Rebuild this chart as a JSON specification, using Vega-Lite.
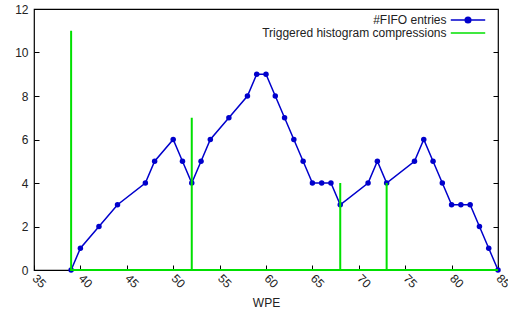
{
  "$schema": "https://vega.github.io/schema/vega-lite/v6.json",
  "width": 464,
  "height": 261,
  "autosize": {"type": "none"},
  "padding": {"left": 34, "top": 9, "right": 10, "bottom": 41},
  "config": {
    "view": {"stroke": "black", "strokeWidth": 1.2},
    "font": "Liberation Sans",
    "axis": {
      "grid": false,
      "domain": false,
      "tickColor": "black",
      "tickSize": -5,
      "tickWidth": 1,
      "labelColor": "#222222",
      "labelFontSize": 12,
      "labelFont": "Liberation Sans",
      "titleFont": "Liberation Sans",
      "titleFontWeight": "normal",
      "titleFontSize": 12,
      "titleColor": "#222222"
    }
  },
  "datasets": {
    "fifo": [
      {"wpe": 39, "entries": 0, "series": "#FIFO entries"},
      {"wpe": 40, "entries": 1, "series": "#FIFO entries"},
      {"wpe": 42, "entries": 2, "series": "#FIFO entries"},
      {"wpe": 44, "entries": 3, "series": "#FIFO entries"},
      {"wpe": 47, "entries": 4, "series": "#FIFO entries"},
      {"wpe": 48, "entries": 5, "series": "#FIFO entries"},
      {"wpe": 50, "entries": 6, "series": "#FIFO entries"},
      {"wpe": 51, "entries": 5, "series": "#FIFO entries"},
      {"wpe": 52, "entries": 4, "series": "#FIFO entries"},
      {"wpe": 53, "entries": 5, "series": "#FIFO entries"},
      {"wpe": 54, "entries": 6, "series": "#FIFO entries"},
      {"wpe": 56, "entries": 7, "series": "#FIFO entries"},
      {"wpe": 58, "entries": 8, "series": "#FIFO entries"},
      {"wpe": 59, "entries": 9, "series": "#FIFO entries"},
      {"wpe": 60, "entries": 9, "series": "#FIFO entries"},
      {"wpe": 61, "entries": 8, "series": "#FIFO entries"},
      {"wpe": 62, "entries": 7, "series": "#FIFO entries"},
      {"wpe": 63, "entries": 6, "series": "#FIFO entries"},
      {"wpe": 64, "entries": 5, "series": "#FIFO entries"},
      {"wpe": 65, "entries": 4, "series": "#FIFO entries"},
      {"wpe": 66, "entries": 4, "series": "#FIFO entries"},
      {"wpe": 67, "entries": 4, "series": "#FIFO entries"},
      {"wpe": 68, "entries": 3, "series": "#FIFO entries"},
      {"wpe": 71, "entries": 4, "series": "#FIFO entries"},
      {"wpe": 72, "entries": 5, "series": "#FIFO entries"},
      {"wpe": 73, "entries": 4, "series": "#FIFO entries"},
      {"wpe": 76, "entries": 5, "series": "#FIFO entries"},
      {"wpe": 77, "entries": 6, "series": "#FIFO entries"},
      {"wpe": 78, "entries": 5, "series": "#FIFO entries"},
      {"wpe": 79, "entries": 4, "series": "#FIFO entries"},
      {"wpe": 80, "entries": 3, "series": "#FIFO entries"},
      {"wpe": 81, "entries": 3, "series": "#FIFO entries"},
      {"wpe": 82, "entries": 3, "series": "#FIFO entries"},
      {"wpe": 83, "entries": 2, "series": "#FIFO entries"},
      {"wpe": 84, "entries": 1, "series": "#FIFO entries"},
      {"wpe": 85, "entries": 0, "series": "#FIFO entries"}
    ],
    "comp": [
      {"i": 1, "wpe": 39, "h": 0, "series": "Triggered histogram compressions"},
      {"i": 2, "wpe": 39, "h": 11, "series": "Triggered histogram compressions"},
      {"i": 3, "wpe": 39, "h": 0, "series": "Triggered histogram compressions"},
      {"i": 4, "wpe": 52, "h": 0, "series": "Triggered histogram compressions"},
      {"i": 5, "wpe": 52, "h": 7, "series": "Triggered histogram compressions"},
      {"i": 6, "wpe": 52, "h": 0, "series": "Triggered histogram compressions"},
      {"i": 7, "wpe": 68, "h": 0, "series": "Triggered histogram compressions"},
      {"i": 8, "wpe": 68, "h": 4, "series": "Triggered histogram compressions"},
      {"i": 9, "wpe": 68, "h": 0, "series": "Triggered histogram compressions"},
      {"i": 10, "wpe": 73, "h": 0, "series": "Triggered histogram compressions"},
      {"i": 11, "wpe": 73, "h": 4, "series": "Triggered histogram compressions"},
      {"i": 12, "wpe": 73, "h": 0, "series": "Triggered histogram compressions"},
      {"i": 13, "wpe": 85, "h": 0, "series": "Triggered histogram compressions"}
    ]
  },
  "layer": [
    {
      "data": {"name": "fifo"},
      "mark": {"type": "line", "strokeWidth": 1.5, "point": {"filled": true, "size": 30}},
      "encoding": {
        "x": {
          "field": "wpe", "type": "quantitative",
          "scale": {"domain": [35, 85], "nice": false, "zero": false},
          "axis": {"title": "WPE", "values": [35, 40, 45, 50, 55, 60, 65, 70, 75, 80, 85], "labelAngle": 45, "labelAlign": "left", "labelBaseline": "middle", "labelPadding": 11, "titlePadding": 8}
        },
        "y": {
          "field": "entries", "type": "quantitative",
          "scale": {"domain": [0, 12], "nice": false},
          "axis": {"title": null, "orient": "left", "values": [0, 2, 4, 6, 8, 10, 12], "labelPadding": 11}
        },
        "color": {
          "field": "series", "type": "nominal",
          "scale": {"domain": ["#FIFO entries", "Triggered histogram compressions"], "range": ["#0000cc", "#00e000"]},
          "legend": {
            "title": null,
            "orient": "none",
            "legendX": 428,
            "legendY": 5,
            "symbolSize": 56,
            "symbolType": "M-4.6,0L4.6,0",
            "rowPadding": 1,
            "padding": 0,
            "labelAlign": "right",
            "labelOffset": -27.5,
            "labelLimit": 0,
            "labelFontSize": 12,
            "labelFont": "Liberation Sans",
            "labelColor": "#222222",
            "symbolStrokeWidth": 1.5,
            "encode": {
              "symbols": {
                "update": {
                  "shape": [
                    {"test": "datum.value === '#FIFO entries'", "value": "M-4.6,0L4.6,0M-0.75,0A0.75,0.75 0 1,0 0.75,0A0.75,0.75 0 1,0 -0.75,0Z"},
                    {"value": "M-4.6,0L4.6,0"}
                  ],
                  "fill": [
                    {"test": "datum.value === '#FIFO entries'", "value": "#0000cc"},
                    {"value": "transparent"}
                  ],
                  "stroke": [
                    {"test": "datum.value === '#FIFO entries'", "value": "#0000cc"},
                    {"value": "#00e000"}
                  ],
                  "strokeWidth": {"value": 1.5},
                  "opacity": {"value": 1}
                }
              }
            }
          }
        }
      }
    },
    {
      "data": {"name": "comp"},
      "mark": {"type": "line", "strokeWidth": 2},
      "encoding": {
        "x": {"field": "wpe", "type": "quantitative"},
        "y": {
          "field": "h", "type": "quantitative",
          "axis": {"title": null, "orient": "right", "labels": false, "values": [0, 2, 4, 6, 8, 10, 12]}
        },
        "order": {"field": "i", "type": "quantitative"},
        "color": {"field": "series", "type": "nominal"}
      }
    }
  ],
  "resolve": {"axis": {"y": "independent"}}
}
